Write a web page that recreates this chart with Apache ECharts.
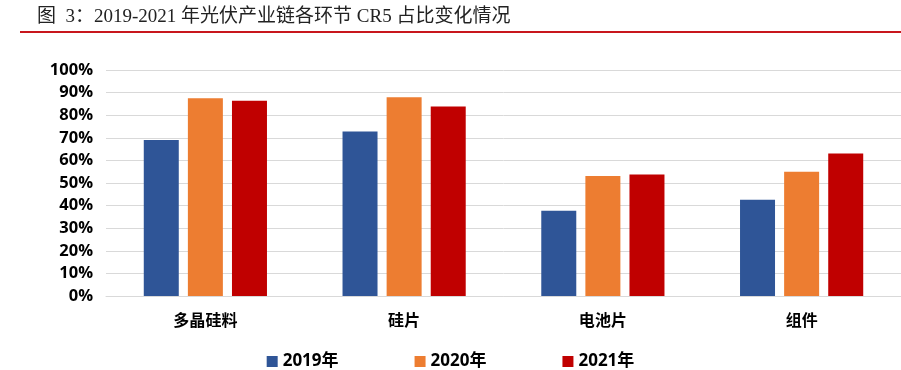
<!DOCTYPE html>
<html><head><meta charset="utf-8">
<script src="https://cdn.jsdelivr.net/npm/echarts@6/dist/echarts.min.js"></script>
<style>html,body{margin:0;padding:0;background:#fff}#c{width:901px;height:370px}</style>
</head><body><div id="c"></div>
<script>
const categories = ['多晶硅料', '硅片', '电池片', '组件'];
const seriesNames = ['2019年', '2020年', '2021年'];
const v2019 = [69.0, 72.8, 37.7, 42.6];
const v2020 = [87.5, 87.9, 53.1, 55.0];
const v2021 = [86.4, 83.9, 53.8, 63.1];
const yTicks = [0, 10, 20, 30, 40, 50, 60, 70, 80, 90, 100];
const colors = ['#2F5597', '#ED7D31', '#C00000'];
const values = [v2019, v2020, v2021];

const chart = echarts.init(document.getElementById('c'), null, {renderer: 'canvas'});
const bold = {fontFamily: 'Open Sans, Noto Sans CJK SC, sans-serif', fontWeight: 'bold', color: '#000'};
chart.setOption({
  animation: false,
  title: {
    text: '图\u20023：2019-2021 年光伏产业链各环节 CR5 占比变化情况',
    left: 32, top: 3,
    textStyle: {fontFamily: 'Liberation Serif, Noto Sans CJK SC, serif', fontWeight: 'normal', fontSize: 19, color: '#222'}
  },
  graphic: [{type: 'rect', shape: {x: 20, y: 31, width: 881, height: 2}, style: {fill: '#C8161D'}}],
  legend: {
    data: seriesNames, bottom: -5, left: 'center', itemWidth: 11, itemHeight: 11, itemGap: 76,
    icon: 'rect',
    textStyle: Object.assign({fontSize: 17}, bold)
  },
  grid: {left: 106, right: 0, top: 70, bottom: 74},
  xAxis: {
    type: 'category', data: categories,
    axisLine: {lineStyle: {color: '#D9D9D9', width: 1}},
    axisTick: {show: false},
    axisLabel: Object.assign({fontSize: 16, margin: 17}, bold)
  },
  yAxis: {
    type: 'value', min: 0, max: 100, interval: 10,
    axisLine: {show: false}, axisTick: {show: false},
    splitLine: {lineStyle: {color: '#D9D9D9', width: 1}},
    axisLabel: Object.assign({fontSize: 16.5, margin: 13, formatter: v => yTicks.includes(v) ? v + '%' : ''}, bold)
  },
  series: seriesNames.map((n, i) => ({
    name: n, type: 'bar', data: values[i], barWidth: 35, barGap: '26%',
    itemStyle: {color: colors[i]}
  }))
});
</script></body></html>
